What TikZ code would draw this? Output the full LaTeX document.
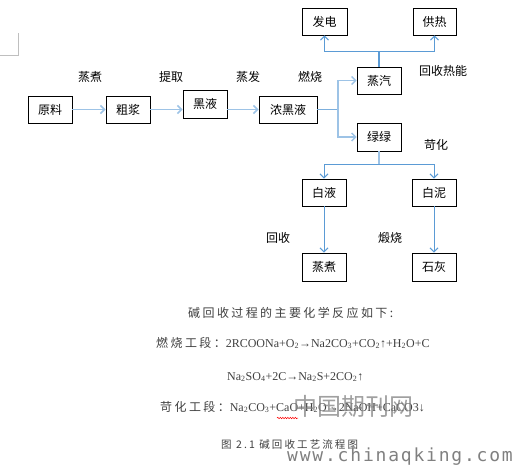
\documentclass[tikz,border=0pt]{standalone}
\usepackage{fontspec}
\setmainfont{Liberation Serif}
\newfontfamily\cjk{Noto Sans CJK SC}
\newfontfamily\cjksp[LetterSpace=20]{Noto Sans CJK SC}
\newfontfamily\cjkcap[LetterSpace=20]{Noto Sans CJK SC}
\newfontfamily\wmono[LetterSpace=10]{DejaVu Sans Mono}
\usetikzlibrary{arrows.meta,decorations.pathmorphing}
\definecolor{arrowblue}{HTML}{5B9BD5}
\definecolor{lightblue}{HTML}{9DC3E6}
\definecolor{eqgray}{HTML}{404040}
\begin{document}
\begin{tikzpicture}[x=1pt,y=-1pt,
  box/.style={draw=black, line width=0.9pt, minimum width=44pt, minimum height=27pt, inner sep=0pt, font=\cjk\fontsize{12}{14}\selectfont},
  lbl/.style={font=\cjk\fontsize{12}{14}\selectfont, inner sep=0pt},
  flow/.style={draw=arrowblue, line width=1pt, -{Straight Barb[length=4pt,width=8pt]}},
  flowline/.style={draw=arrowblue, line width=1pt},
  flowh/.style={flow, draw=lightblue, line width=1.6pt},
  eq/.style={anchor=west, inner sep=0pt, text=eqgray, font=\fontsize{12}{14}\selectfont},
]
\useasboundingbox (0,0) rectangle (517,467);
% corner mark
\draw[gray!50, line width=0.6pt] (18,33) -- (18,55) -- (0,55);
% boxes
\node[box] (yl) at (50,109.5) {原料};
\node[box] (cj) at (128,109.5) {粗浆};
\node[box, minimum height=28pt] (hy) at (205,104) {黑液};
\node[box, minimum width=58pt] (nhy) at (288,109.5) {浓黑液};
\node[box] (zq) at (379,80.5) {蒸汽};
\node[box, minimum height=28pt] (ll) at (379,137) {绿绿};
\node[box, minimum width=45pt] (fd) at (324.5,21.5) {发电};
\node[box, minimum width=43pt] (gr) at (434.5,21.5) {供热};
\node[box] (by) at (324,192.5) {白液};
\node[box] (bn) at (434,192.5) {白泥};
\node[box, minimum height=28pt] (zz) at (324,267) {蒸煮};
\node[box, minimum height=28pt] (sh) at (434,267) {石灰};
% labels
\node[lbl] (l1) at (90,77) {蒸煮};
\node[lbl] (l2) at (171,77) {提取};
\node[lbl] (l3) at (248,77) {蒸发};
\node[lbl] (l4) at (310,77) {燃烧};
\node[lbl] (l5) at (443,71) {回收热能};
\node[lbl] (l6) at (436,145) {苛化};
\node[lbl] (l7) at (278,238) {回收};
\node[lbl] (l8) at (390,238) {煅烧};
% junctions
\coordinate (j1) at (338,109.5);
\coordinate (j2) at (379,51);
\coordinate (j3) at (379,164);
% connectors
\draw[flowh] (yl.east) -- (cj.west);
\draw[flowh] (cj.east) -- (cj.east -| hy.west);
\draw[flowh] (nhy.west -| hy.east) -- (nhy.west);
\draw[flowline, draw=arrowblue!80, line width=1.3pt] (nhy.east) -- (j1);
\draw[flow, draw=lightblue, line width=1.4pt] (j1) |- (zq.west);
\draw[flow, draw=lightblue, line width=1.4pt] (j1) |- (ll.west);
\draw[flowline, line width=1.4pt] (zq.north) -- (j2);
\draw[flow] (j2) -| (fd.south);
\draw[flow] (j2) -| (gr.south);
\draw[flowline, draw=lightblue, line width=1.4pt] (ll.south) -- (j3);
\draw[flow] (j3) -| (by.north);
\draw[flow] (j3) -| (bn.north);
\draw[flow] (by.south) -- (zz.north);
\draw[flow] (bn.south) -- (sh.north);
% reactions
\node[eq] (r1) at (188,313) {\cjksp 碱回收过程的主要化学反应如下:};
\node[eq] (r2) at (156,343) {{\cjksp 燃烧工段：}2RCOONa+O\textsubscript{2}→Na2CO\textsubscript{3}+CO\textsubscript{2}↑+H\textsubscript{2}O+C};
\node[eq] (r3) at (227,377) {Na\textsubscript{2}SO\textsubscript{4}+2C→Na\textsubscript{2}S+2CO\textsubscript{2}↑};
\node[eq] (r4) at (160,407) {{\cjksp 苛化工段：}Na\textsubscript{2}CO\textsubscript{3}+CaO+H\textsubscript{2}O→2NaOH+CaCO3↓};
\draw[red, line width=0.5pt, decorate, decoration={snake,amplitude=0.7pt,segment length=2.5pt}] (277,418) -- (298,418);
\node[eq, font=\fontsize{10.5}{12}\selectfont] (cap) at (221,445) {\cjkcap 图 2.1 碱回收工艺流程图};
% watermark
\node[inner sep=0pt, font=\cjk\fontsize{24}{26}\selectfont, text=gray, opacity=0.75] (wm) at (353,406) {中国期刊网};
\node[anchor=west, inner sep=0pt, font=\wmono\fontsize{18}{20}\selectfont, text=gray] (url) at (287,457) {www.chinaqking.com};
\end{tikzpicture}
\end{document}
